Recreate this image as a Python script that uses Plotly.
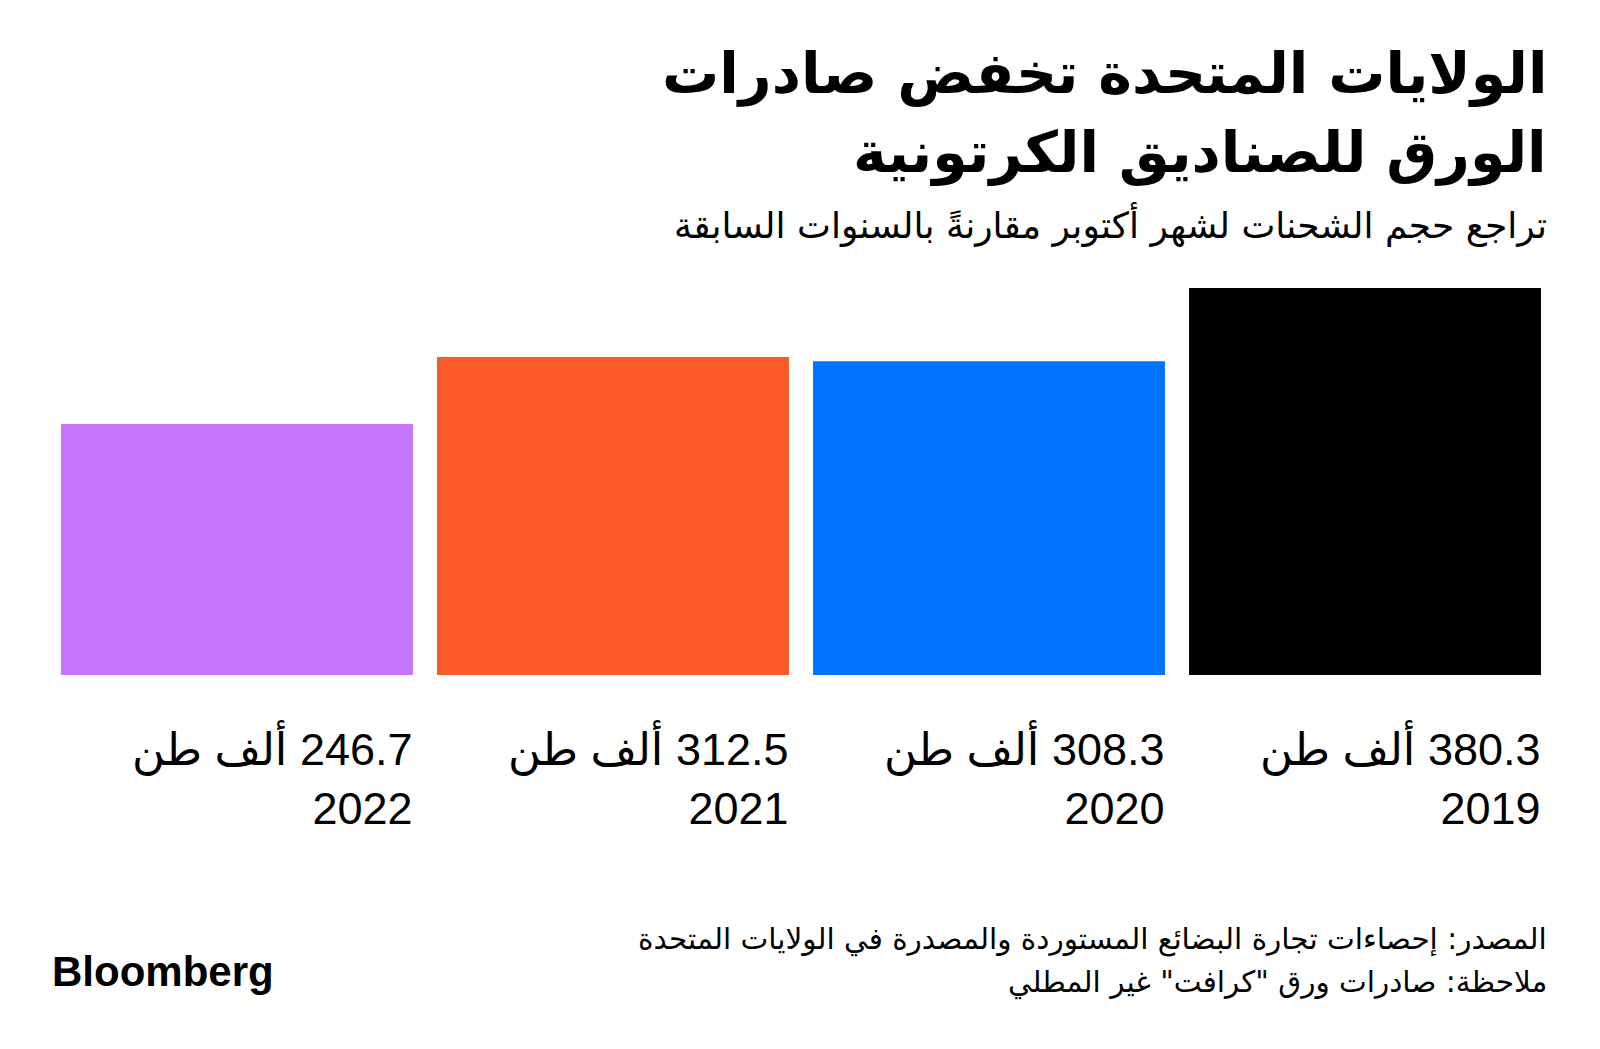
import plotly.graph_objects as go

years = ["2019", "2020", "2021", "2022"]
values = [380.3, 308.3, 312.5, 246.7]
value_labels = ["380.3 ألف طن", "308.3 ألف طن", "312.5 ألف طن", "246.7 ألف طن"]
colors = ["#000000", "#0073FF", "#FA5A28", "#C775FF"]

title_lines = ["الولايات المتحدة تخفض صادرات", "الورق للصناديق الكرتونية"]
subtitle = "تراجع حجم الشحنات لشهر أكتوبر مقارنةً بالسنوات السابقة"
source = "المصدر: إحصاءات تجارة البضائع المستوردة والمصدرة في الولايات المتحدة"
note = 'ملاحظة: صادرات ورق "كرافت" غير المطلي'
brand = "Bloomberg"

W, H = 1600, 1049
OFF = 8  # default page body margin
L, R, T, B = 49 - OFF, 47 + OFF, 268 - OFF, 374 + OFF
PW, PH = W - L - R, H - T - B

def xp(px):
    return (px - OFF - L) / PW

def yp(py):
    return (H - B - (py - OFF)) / PH

RLE, PDF = "\u202B", "\u202C"
AR = "DejaVu Sans"
NUM = "Liberation Sans, DejaVu Sans"

fig = go.Figure()
fig.add_trace(go.Bar(
    x=years, y=values, marker=dict(color=colors, line=dict(width=0)),
    width=0.936, hoverinfo="skip",
))

ann = []
for i, t in enumerate(title_lines):
    ann.append(dict(text="<b>" + RLE + t + PDF + "</b>", x=xp(1549), y=yp([74, 153][i]),
                    xref="paper", yref="paper", xanchor="right", yanchor="middle",
                    showarrow=False, font=dict(family=AR, size=57, color="#000000")))
ann.append(dict(text=RLE + subtitle + PDF, x=xp(1549), y=yp(224), xref="paper", yref="paper",
                xanchor="right", yanchor="middle", showarrow=False,
                font=dict(family=AR, size=36, color="#000000")))
for i, (yr, lab) in enumerate(zip(years, value_labels)):
    ann.append(dict(text=RLE + lab + PDF + "<br>" + yr, x=i, y=0, xref="x", yref="y",
                    xanchor="right", yanchor="middle", align="right", xshift=178, yshift=-102,
                    showarrow=False, font=dict(family=NUM, size=45, color="#000000")))
for t, py in [(source, 939), (note, 982)]:
    ann.append(dict(text=RLE + t + PDF, x=xp(1549), y=yp(py), xref="paper", yref="paper",
                    xanchor="right", yanchor="middle", showarrow=False,
                    font=dict(family=AR, size=29.5, color="#000000")))
ann.append(dict(text="<b>" + brand + "</b>", x=xp(50), y=yp(971), xref="paper", yref="paper",
                xanchor="left", yanchor="middle", showarrow=False,
                font=dict(family="Liberation Sans", size=42, color="#000000")))

fig.update_layout(
    width=W, height=H, margin=dict(l=L, r=R, t=T, b=B),
    paper_bgcolor="#FFFFFF", plot_bgcolor="#FFFFFF",
    showlegend=False, annotations=ann, bargap=0.064,
    xaxis=dict(type="category", categoryorder="array", categoryarray=years,
               range=[len(years) - 0.5, -0.5], showticklabels=False, showgrid=False,
               zeroline=False, showline=False, ticks=""),
    yaxis=dict(range=[0, 400], showticklabels=False, showgrid=False, zeroline=False,
               showline=False, ticks=""),
)
fig.write_html("out.html")
